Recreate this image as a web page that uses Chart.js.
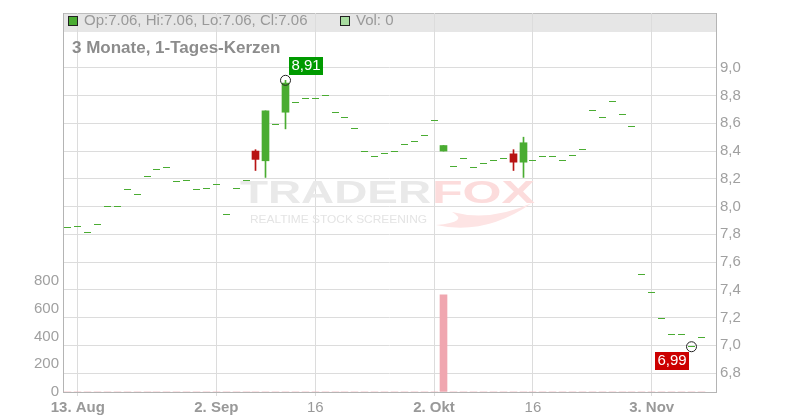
<!DOCTYPE html>
<html>
<head>
<meta charset="utf-8">
<script src="https://cdn.jsdelivr.net/npm/chart.js@4.4.1/dist/chart.umd.min.js"></script>
<style>
  html, body { margin: 0; padding: 0; background: #fff; }
  canvas { display: block; }
</style>
</head>
<body>
<canvas id="grafico" width="800" height="420"></canvas>
<script>
// Fechas (días de negociación)
const fechas = [
  '12.08','13.08','14.08','15.08','16.08','19.08','20.08','21.08','22.08','23.08','26.08','27.08','28.08','29.08','30.08',
  '02.09','03.09','04.09','05.09','06.09','09.09','10.09','11.09','12.09','13.09','16.09','17.09','18.09','19.09','20.09',
  '23.09','24.09','25.09','26.09','27.09','30.09','01.10','02.10','03.10','04.10','07.10','08.10','09.10','10.10','11.10',
  '14.10','15.10','16.10','17.10','18.10','21.10','22.10','23.10','24.10','25.10','28.10','29.10','30.10','31.10',
  '03.11','04.11','05.11','06.11','07.11','08.11'
];

const aperturas = [
  7.85,7.86,7.81,7.87,8.00,8.00,8.12,8.09,8.22,8.27,
  8.28,8.18,8.19,8.12,8.13,8.16,7.94,8.13,8.19,8.40,
  8.33,8.59,8.68,8.75,8.78,8.78,8.80,8.68,8.64,8.56,
  8.40,8.36,8.38,8.40,8.45,8.47,8.51,8.62,8.40,8.29,
  8.35,8.28,8.31,8.33,8.35,8.38,8.32,8.33,8.36,8.36,
  8.33,8.37,8.41,8.69,8.64,8.76,8.66,8.58,7.51,7.38,
  7.19,7.08,7.08,6.99,7.06
];
const maximos = [
  7.85,7.86,7.81,7.87,8.00,8.00,8.12,8.09,8.22,8.27,
  8.28,8.18,8.19,8.12,8.13,8.16,7.94,8.13,8.19,8.41,
  8.69,8.59,8.91,8.75,8.78,8.78,8.80,8.68,8.64,8.56,
  8.40,8.36,8.38,8.40,8.45,8.47,8.51,8.62,8.44,8.29,
  8.35,8.28,8.31,8.33,8.35,8.41,8.50,8.33,8.36,8.36,
  8.33,8.37,8.41,8.69,8.64,8.76,8.66,8.58,7.51,7.38,
  7.19,7.08,7.08,6.99,7.06
];
const minimos = [
  7.85,7.86,7.81,7.87,8.00,8.00,8.12,8.09,8.22,8.27,
  8.28,8.18,8.19,8.12,8.13,8.16,7.94,8.13,8.19,8.26,
  8.21,8.59,8.56,8.75,8.78,8.78,8.80,8.68,8.64,8.56,
  8.40,8.36,8.38,8.40,8.45,8.47,8.51,8.62,8.40,8.29,
  8.35,8.28,8.31,8.33,8.35,8.26,8.21,8.33,8.36,8.36,
  8.33,8.37,8.41,8.69,8.64,8.76,8.66,8.58,7.51,7.38,
  7.19,7.08,7.08,6.99,7.06
];
const cierres = [
  7.85,7.86,7.81,7.87,8.00,8.00,8.12,8.09,8.22,8.27,
  8.28,8.18,8.19,8.12,8.13,8.16,7.94,8.13,8.19,8.34,
  8.69,8.59,8.89,8.75,8.78,8.78,8.80,8.68,8.64,8.56,
  8.40,8.36,8.38,8.40,8.45,8.47,8.51,8.62,8.44,8.29,
  8.35,8.28,8.31,8.33,8.35,8.32,8.46,8.33,8.36,8.36,
  8.33,8.37,8.41,8.69,8.64,8.76,8.66,8.58,7.51,7.38,
  7.19,7.08,7.08,6.99,7.06
];
const volumen = [
  0,0,0,0,0,0,0,0,0,0,
  0,0,0,0,0,0,0,0,0,0,
  0,0,0,0,0,0,0,0,0,0,
  0,0,0,0,0,0,0,0,700,0,
  0,0,0,0,0,0,0,0,0,0,
  0,0,0,0,0,0,0,0,0,0,
  0,0,0,0,0
];

// Etiquetas del eje x
const posMarcas = [1, 15, 25, 37, 47, 59];
const textoMarcas = ['13. Aug', '2. Sep', '16', '2. Okt', '16', '3. Nov'];
const ticksPrecio = [6.8, 7.0, 7.2, 7.4, 7.6, 7.8, 8.0, 8.2, 8.4, 8.6, 8.8, 9.0];
const ticksVolumen = [0, 200, 400, 600, 800];

const VERDE = '#4aac32';
const ROJO = '#b81414';
const GRIS = '#a0a0a0';
const REJILLA = '#dcdcdc';
const FUENTE = "'Liberation Sans', Arial, sans-serif";
Chart.defaults.font.family = FUENTE;

const n = cierres.length;
const etiquetas = fechas.concat(['']); // hueco a la derecha
const esPlano = i => aperturas[i] === cierres[i] && maximos[i] === minimos[i];
const colorVela = i => cierres[i] >= aperturas[i] ? VERDE : ROJO;

const iMax = maximos.indexOf(Math.max(...maximos));
const iMin = minimos.indexOf(Math.min(...minimos));

function textoAncho(ctx, txt, x, y, ancho) {
  const w = ctx.measureText(txt).width;
  ctx.save();
  ctx.translate(x, y);
  ctx.scale(ancho / w, 1);
  ctx.fillText(txt, 0, 0);
  ctx.restore();
}

const decoracion = {
  id: 'decoracion',
  beforeDraw(chart) {
    const { ctx, chartArea: a } = chart;
    ctx.save();
    ctx.fillStyle = '#e6e6e6';
    ctx.fillRect(a.left, a.top, a.right - a.left, 19);
    ctx.strokeStyle = '#bdbdbd';
    ctx.lineWidth = 1;
    ctx.beginPath();
    ctx.moveTo(a.left, a.top + 0.5);
    ctx.lineTo(a.right, a.top + 0.5);
    ctx.stroke();
    ctx.restore();
  },
  beforeDatasetsDraw(chart) {
    // marca de agua
    const ctx = chart.ctx;
    ctx.save();
    ctx.textBaseline = 'alphabetic';
    ctx.font = 'bold 32px ' + FUENTE;
    ctx.fillStyle = '#e9e9e9';
    textoAncho(ctx, 'TRADER', 240, 203, 191);
    ctx.fillStyle = '#fcdcdc';
    textoAncho(ctx, 'FOX', 432, 203, 103);
    ctx.font = '11px ' + FUENTE;
    ctx.fillStyle = '#e4e4e4';
    textoAncho(ctx, 'REALTIME STOCK SCREENING', 250, 223, 177);
    ctx.fillStyle = '#fde4e4';
    ctx.beginPath();
    ctx.moveTo(436, 225);
    ctx.quadraticCurveTo(485, 236, 532, 203);
    ctx.quadraticCurveTo(490, 222, 452, 212);
    ctx.quadraticCurveTo(470, 222, 436, 225);
    ctx.fill();
    ctx.restore();
  },
  beforeDatasetDraw(chart, args) {
    // ajustar a píxel entero para que las marcas salgan nítidas
    args.meta.data.forEach(p => {
      if (!p) return;
      p.x = Math.round(p.x - 0.5) + 0.5;
      if (args.index === 3) p.y = Math.round(p.y - 0.5) + 0.5;
    });
  },
  afterDatasetsDraw(chart) {
    const ctx = chart.ctx;
    ctx.save();
    // cabecera
    ctx.fillStyle = VERDE;
    ctx.fillRect(68.5, 16.5, 9, 9);
    ctx.strokeStyle = '#222';
    ctx.strokeRect(68.5, 16.5, 9, 9);
    ctx.fillStyle = '#a8dca0';
    ctx.fillRect(340.5, 16.5, 9, 9);
    ctx.strokeRect(340.5, 16.5, 9, 9);
    const u = n - 1;
    ctx.font = '15px ' + FUENTE;
    ctx.fillStyle = '#999';
    ctx.textBaseline = 'middle';
    ctx.fillText(`Op:${aperturas[u].toFixed(2)}, Hi:${maximos[u].toFixed(2)}, Lo:${minimos[u].toFixed(2)}, Cl:${cierres[u].toFixed(2)}`, 84, 21);
    ctx.fillText(`Vol: ${volumen[u]}`, 356, 21);
    ctx.font = 'bold 17px ' + FUENTE;
    ctx.fillStyle = '#8c8c8c';
    ctx.textBaseline = 'alphabetic';
    ctx.fillText('3 Monate, 1-Tages-Kerzen', 72, 53);

    // etiquetas de máximo y mínimo
    const pts = chart.getDatasetMeta(4).data;
    const pMax = pts[iMax], pMin = pts[iMin];
    ctx.font = '15px ' + FUENTE;
    ctx.textBaseline = 'middle';
    ctx.textAlign = 'center';
    ctx.fillStyle = '#009a00';
    ctx.fillRect(Math.round(pMax.x) + 3, Math.round(pMax.y) - 23, 34, 18);
    ctx.fillStyle = '#fff';
    ctx.fillText(maximos[iMax].toFixed(2).replace('.', ','), Math.round(pMax.x) + 20, Math.round(pMax.y) - 14);
    ctx.fillStyle = '#cc0000';
    ctx.fillRect(Math.round(pMin.x) - 37, Math.round(pMin.y) + 5, 34, 18);
    ctx.fillStyle = '#fff';
    ctx.fillText(minimos[iMin].toFixed(2).replace('.', ','), Math.round(pMin.x) - 20, Math.round(pMin.y) + 14);
    ctx.restore();
  }
};

new Chart(document.getElementById('grafico'), {
  type: 'bar',
  data: {
    labels: etiquetas,
    datasets: [
      {
        label: 'Volumen',
        data: volumen,
        yAxisID: 'yVol',
        backgroundColor: '#f0a7b0',
        barThickness: 7,
        grouped: false,
        order: 5
      },
      {
        label: 'Mecha',
        data: cierres.map((c, i) => esPlano(i) || aperturas[i] === c ? null : [minimos[i], maximos[i]]),
        yAxisID: 'y',
        backgroundColor: cierres.map((c, i) => colorVela(i)),
        barThickness: 1,
        grouped: false,
        order: 4
      },
      {
        label: 'Cuerpo',
        data: cierres.map((c, i) => aperturas[i] === c ? null : [aperturas[i], c]),
        yAxisID: 'y',
        backgroundColor: cierres.map((c, i) => colorVela(i)),
        barThickness: 7,
        grouped: false,
        order: 3
      },
      {
        type: 'line',
        label: 'Plano',
        data: cierres.map((c, i) => esPlano(i) ? c : null),
        yAxisID: 'y',
        showLine: false,
        pointStyle: 'line',
        pointRadius: 3.5,
        pointBorderWidth: 1,
        borderColor: VERDE,
        order: 2
      },
      {
        type: 'line',
        label: 'Extremos',
        data: cierres.map((c, i) => i === iMax ? maximos[i] : (i === iMin ? minimos[i] : null)),
        yAxisID: 'y',
        showLine: false,
        pointStyle: 'circle',
        pointRadius: 5,
        pointBorderWidth: 1,
        borderColor: '#222',
        backgroundColor: 'rgba(255,255,255,0)',
        order: 1
      }
    ]
  },
  options: {
    responsive: false,
    devicePixelRatio: 1,
    animation: false,
    events: [],
    layout: { padding: { top: 11, left: 0, right: 0, bottom: 0 } },
    plugins: { legend: { display: false }, tooltip: { enabled: false } },
    scales: {
      x: {
        type: 'category',
        offset: true,
        grid: {
          offset: false,
          color: c => c.tick && posMarcas.includes(c.tick.value) ? REJILLA : 'rgba(0,0,0,0)',
          tickLength: 4
        },
        border: { color: '#b4b4b4' },
        ticks: {
          autoSkip: false,
          maxRotation: 0,
          minRotation: 0,
          padding: 3,
          color: '#999',
          font: c => ({ size: 15, weight: c.tick && /[A-Za-z]/.test(textoMarcas[posMarcas.indexOf(c.tick.value)] || '') ? 'bold' : 'normal' }),
          callback: (v, i) => {
            const k = posMarcas.indexOf(v);
            return k >= 0 ? textoMarcas[k] : null;
          }
        },
        afterFit: s => { s.height = 28; }
      },
      y: {
        position: 'right',
        min: 6.6638,
        max: 9.395,
        afterBuildTicks: s => { s.ticks = ticksPrecio.map(v => ({ value: v })); },
        grid: { color: REJILLA, drawTicks: false },
        border: { color: '#b4b4b4' },
        ticks: {
          padding: 4,
          color: GRIS,
          font: { size: 15 },
          callback: v => v.toFixed(1).replace('.', ',')
        },
        afterFit: s => { s.width = 84; }
      },
      yVol: {
        position: 'left',
        min: 0,
        max: 2730,
        afterBuildTicks: s => { s.ticks = ticksVolumen.map(v => ({ value: v })); },
        grid: { drawOnChartArea: false, drawTicks: false },
        border: { color: '#b4b4b4' },
        ticks: {
          padding: 4,
          color: GRIS,
          font: { size: 15 },
          callback: v => String(v)
        },
        afterFit: s => { s.width = 63; }
      }
    }
  },
  plugins: [decoracion]
});
</script>
</body>
</html>
